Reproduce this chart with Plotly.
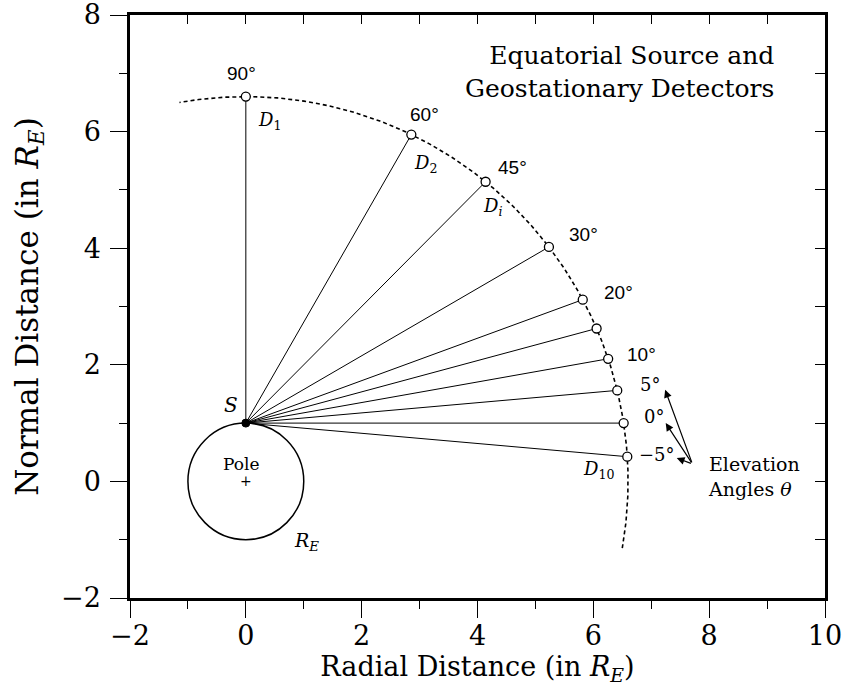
import numpy as np
import plotly.graph_objects as go

# ---- data ----
elevation_angles = [90, 60, 45, 30, 20, 15, 10, 5, 0, -5]   # degrees, seen from source S
angle_labels = ["90°", "60°", "45°", "30°", "20°", "10°"]
angle_label_x = [-0.07, 3.09, 4.60, 5.83, 6.43, 6.84]
angle_label_y = [7.00, 6.30, 5.39, 4.23, 3.24, 2.18]
arrow_labels = ["5°", "0°", "−5°"]
arrow_label_x = [6.98, 7.04, 7.10]
arrow_label_y = [1.66, 1.11, 0.46]
arrow_head_x = [7.24, 7.25, 7.44]
arrow_head_y = [1.57, 1.00, 0.40]
arrow_tail = (7.71, 0.30)
det_labels = ["<i>D</i><sub>1</sub>", "<i>D</i><sub>2</sub>", "<i>D<sub>i</sub></i>", "<i>D</i><sub>10</sub>"]
det_label_x = [0.41, 3.11, 4.26, 6.09]
det_label_y = [6.19, 5.44, 4.70, 0.19]
source = (0.0, 1.0)
orbit_radius = 6.6          # geostationary orbit, R_E
orbit_arc_deg = (-10, 100)  # extent of the dashed orbit arc
earth_radius = 1.0

SERIF = "DejaVu Serif"
SANS = "Liberation Sans"

# detector positions: intersection of ray from S with orbit circle
sx, sy = source
det_x, det_y = [], []
for a in elevation_angles:
    c, s = np.cos(np.radians(a)), np.sin(np.radians(a))
    b = sx * c + sy * s
    t = -b + np.sqrt(b * b - (sx * sx + sy * sy - orbit_radius ** 2))
    det_x.append(sx + t * c)
    det_y.append(sy + t * s)

th = np.radians(np.linspace(orbit_arc_deg[0], orbit_arc_deg[1], 300))
arc_x = orbit_radius * np.cos(th)
arc_y = orbit_radius * np.sin(th)

fig = go.Figure()

# orbit arc
fig.add_trace(go.Scatter(x=arc_x, y=arc_y, mode="lines",
                         line=dict(color="black", width=1.6, dash="4px,3px"),
                         hoverinfo="skip", showlegend=False))
# lines of sight
lx, ly = [], []
for x, y in zip(det_x, det_y):
    lx += [sx, x, None]
    ly += [sy, y, None]
fig.add_trace(go.Scatter(x=lx, y=ly, mode="lines", line=dict(color="black", width=1),
                         hoverinfo="skip", showlegend=False))
# detectors
fig.add_trace(go.Scatter(x=det_x, y=det_y, mode="markers",
                         marker=dict(size=9, color="white", line=dict(color="black", width=1.3)),
                         showlegend=False))
# source
fig.add_trace(go.Scatter(x=[sx], y=[sy], mode="markers",
                         marker=dict(size=8, color="black", line=dict(color="black", width=1)),
                         showlegend=False))
# dummy trace for mirror axes
fig.add_trace(go.Scatter(x=[0], y=[0], xaxis="x2", yaxis="y2", mode="markers",
                         marker=dict(opacity=0), hoverinfo="skip", showlegend=False))

# earth
fig.add_shape(type="circle", xref="x", yref="y", x0=-earth_radius, y0=-earth_radius,
              x1=earth_radius, y1=earth_radius, line=dict(color="black", width=1.5))

ann = []
for t, x, y in zip(angle_labels, angle_label_x, angle_label_y):
    ann.append(dict(x=x, y=y, text=t, showarrow=False, font=dict(family=SANS, size=19, color="black")))
for t, x, y in zip(arrow_labels, arrow_label_x, arrow_label_y):
    ann.append(dict(x=x, y=y, text=t, showarrow=False, font=dict(family=SERIF, size=18, color="black")))
for t, x, y in zip(det_labels, det_label_x, det_label_y):
    ann.append(dict(x=x, y=y, text=t, showarrow=False, font=dict(family=SERIF, size=18, color="black")))
for hx, hy in zip(arrow_head_x, arrow_head_y):
    ann.append(dict(x=hx, y=hy, ax=arrow_tail[0], ay=arrow_tail[1], axref="x", ayref="y",
                    text="", showarrow=True, arrowhead=2, arrowsize=1.3, arrowwidth=1.2,
                    arrowcolor="black", standoff=0, startstandoff=0))
ann.append(dict(x=7.95, y=0.09, text="Elevation<br>Angles <i>θ</i>", showarrow=False,
                xanchor="left", align="left", font=dict(family=SERIF, size=19, color="black")))
ann.append(dict(x=9.16, y=7.03, text="Equatorial Source and<br>Geostationary Detectors",
                showarrow=False, xanchor="right", align="right",
                font=dict(family=SERIF, size=25, color="black")))
ann.append(dict(x=-0.25, y=1.31, text="<i>S</i>", showarrow=False,
                font=dict(family=SERIF, size=20, color="black")))
ann.append(dict(x=-0.08, y=0.30, text="Pole", showarrow=False,
                font=dict(family=SERIF, size=17, color="black")))
ann.append(dict(x=0, y=0, text="+", showarrow=False,
                font=dict(family=SERIF, size=14, color="black")))
ann.append(dict(x=1.05, y=-1.03, text="<i>R<sub>E</sub></i>", showarrow=False,
                font=dict(family=SERIF, size=19, color="black")))
for a in ann:
    a.setdefault("xref", "x")
    a.setdefault("yref", "y")

axis_common = dict(showgrid=False, zeroline=False, showline=True, linecolor="black",
                   linewidth=2.5, automargin=False)
fig.update_layout(
    width=842, height=692,
    margin=dict(l=130, r=17, t=15, b=94),
    plot_bgcolor="white", paper_bgcolor="white",
    annotations=ann,
    xaxis=dict(range=[-2, 10], tick0=0, dtick=2, ticks="outside", ticklen=17, tickwidth=1.3,
               tickcolor="black", minor=dict(dtick=1, ticks="outside", ticklen=8, tickwidth=1.3,
                                             tickcolor="black"),
               ticklabeloverflow="allow", ticklabelstandoff=-5,
               tickfont=dict(family=SERIF, size=27, color="black"),
               title=dict(text="Radial Distance (in <i>R<sub>E</sub></i>)", standoff=4,
                          font=dict(family=SERIF, size=27, color="black")),
               **axis_common),
    yaxis=dict(range=[-2, 8], tick0=0, dtick=2, ticks="outside", ticklen=17, tickwidth=1.3,
               tickcolor="black", minor=dict(dtick=1, ticks="outside", ticklen=8, tickwidth=1.3,
                                             tickcolor="black"),
               ticklabeloverflow="allow", ticklabelstandoff=4,
               tickfont=dict(family=SERIF, size=27, color="black"),
               title=dict(text="Normal Distance (in <i>R<sub>E</sub></i>)", standoff=14,
                          font=dict(family=SERIF, size=31, color="black")),
               **axis_common),
    xaxis2=dict(range=[-2, 10], overlaying="x", side="top", dtick=1, tick0=0, ticks="inside",
                ticklen=9, tickwidth=1.3, tickcolor="black", showticklabels=False,
                **axis_common),
    yaxis2=dict(range=[-2, 8], overlaying="y", side="right", dtick=1, tick0=0, ticks="inside",
                ticklen=10, tickwidth=1.3, tickcolor="black", showticklabels=False,
                **axis_common),
)

fig.write_html("out.html", config={"displayModeBar": False},
               post_script="document.body.style.margin='0';document.body.style.overflow='hidden';")
